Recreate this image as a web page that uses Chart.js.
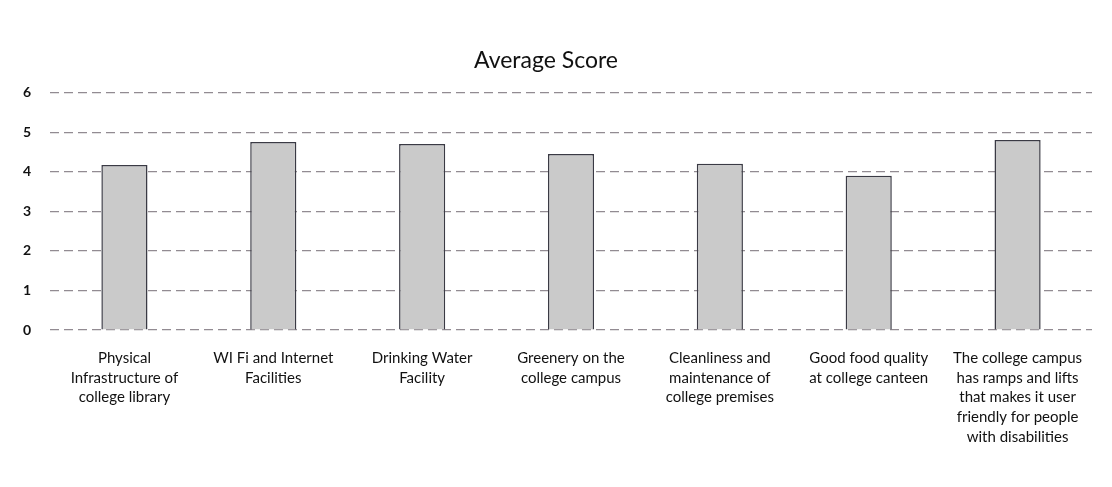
<!DOCTYPE html>
<html>
<head>
<meta charset="utf-8">
<script src="https://cdn.jsdelivr.net/npm/chart.js@4.4.1/dist/chart.umd.min.js"></script>
<style>
  html,body{margin:0;padding:0;background:#fff;}
  #wrap{width:1112px;height:487px;position:relative;}
</style>
</head>
<body>
<div id="wrap"><canvas id="chart"></canvas></div>
<script>
// Average Score per facility
const categories=[
  ['Physical','Infrastructure of','college library'],
  ['WI Fi and Internet','Facilities'],
  ['Drinking Water','Facility'],
  ['Greenery on the','college campus'],
  ['Cleanliness and','maintenance of','college premises'],
  ['Good food quality','at college canteen'],
  ['The college campus','has ramps and lifts','that makes it user','friendly for people','with disabilities']
];
const scores=[4.17,4.75,4.7,4.45,4.2,3.9,4.8];
const yTicks=[0,1,2,3,4,5,6];

const ctx=document.getElementById('chart').getContext('2d');
new Chart(ctx,{
  type:'bar',
  data:{labels:categories,datasets:[{label:'Average Score',data:scores,
    backgroundColor:'#cacaca',borderColor:'#3a3a44',borderWidth:1.5,
    barPercentage:0.31,categoryPercentage:1}]},
  options:{responsive:true,maintainAspectRatio:false,animation:false,
    layout:{padding:{left:0,right:20,top:0,bottom:5}},
    plugins:{legend:{display:false},tooltip:{enabled:false},
      title:{display:true,text:'Average Score',color:'#111',
        font:{family:'Lato',size:23,weight:'normal'},padding:{top:47,bottom:18}}},
    scales:{
      x:{grid:{display:false},border:{display:false},
        ticks:{color:'#111',maxRotation:0,autoSkip:false,padding:10,
          font:{family:'Lato',size:15,lineHeight:1.32}},
        afterFit:s=>{s.height=152;}},
      y:{min:0,max:6,
        afterBuildTicks:s=>{s.ticks=yTicks.map(v=>({value:v}));},
        grid:{color:'rgba(110,100,110,0.75)',lineWidth:1.2,drawTicks:false},
        border:{display:false,dash:[9,5]},
        ticks:{color:'#111',padding:19,font:{family:'Lato',size:14,weight:'bold'}},
        afterFit:s=>{s.width=50;}}
    }}
});
</script>
</body>
</html>
